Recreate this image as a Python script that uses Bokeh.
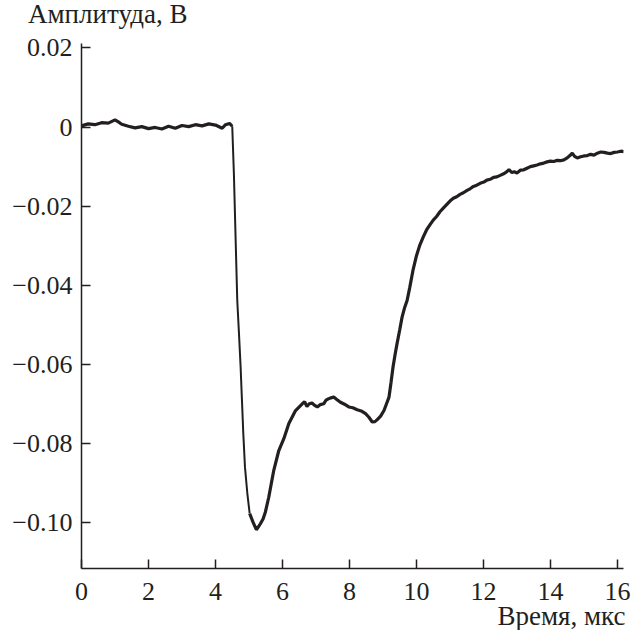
from bokeh.plotting import figure
from bokeh.models import FixedTicker, Range1d, Title, Div
from bokeh.layouts import column
from bokeh.embed import file_html
from bokeh.resources import INLINE

time_us = [0.0, 0.2, 0.4, 0.6, 0.8, 1.0, 1.1, 1.2, 1.4, 1.6, 1.8, 2.0, 2.2, 2.4, 2.6, 2.8,
           3.0, 3.2, 3.4, 3.6, 3.8, 4.0, 4.2, 4.3, 4.42, 4.5,
           4.55, 4.6, 4.65, 4.70, 4.75, 4.79, 4.83, 4.88, 4.95, 5.02, 5.12, 5.22, 5.28, 5.34,
           5.42, 5.49, 5.59, 5.74, 5.89, 6.04, 6.19, 6.39, 6.59, 6.66, 6.73, 6.8, 6.88, 6.96,
           7.04, 7.13, 7.23, 7.3, 7.38, 7.45, 7.53, 7.62, 7.73, 7.85, 7.98, 8.1, 8.23, 8.35,
           8.48, 8.58, 8.68, 8.76, 8.83, 8.93, 9.03, 9.1, 9.18, 9.24, 9.30, 9.36, 9.42, 9.50,
           9.57, 9.65, 9.72, 9.8, 9.9, 10.0, 10.1, 10.2, 10.3, 10.4, 10.5, 10.6, 10.7, 10.8,
           10.9, 11.0, 11.1, 11.2, 11.3, 11.4, 11.51, 11.6, 11.7, 11.8, 11.9, 12.01, 12.1, 12.2,
           12.3, 12.4, 12.5, 12.6, 12.68, 12.76, 12.85, 12.92, 13.0, 13.1, 13.2, 13.3, 13.4,
           13.5, 13.6, 13.7, 13.8, 13.9, 14.0, 14.1, 14.2, 14.3, 14.4, 14.5, 14.58, 14.65,
           14.72, 14.8, 14.9, 15.0, 15.1, 15.2, 15.3, 15.4, 15.5, 15.6, 15.7, 15.8, 15.9, 16.0,
           16.1, 16.19]

amplitude_v = [0.0003, 0.0008, 0.0006, 0.0011, 0.0010, 0.0018, 0.0013, 0.0007, 0.0002, -0.0002,
               0.0001, -0.0004, -0.0001, -0.0005, 0.0002, -0.0003, 0.0004, 0.0001, 0.0006, 0.0003,
               0.0008, 0.0005, -0.0003, 0.0006, 0.0009, 0.0002,
               -0.012, -0.028, -0.0438, -0.052, -0.0606, -0.069, -0.0774, -0.0859, -0.0925,
               -0.0976, -0.0998, -0.1017, -0.1010, -0.1002, -0.0990, -0.0972, -0.0935, -0.0867,
               -0.0817, -0.0787, -0.0749, -0.0716, -0.0699, -0.0694, -0.0706, -0.0699, -0.0697,
               -0.0703, -0.0707, -0.0701, -0.0699, -0.0690, -0.0686, -0.0684, -0.0682, -0.0688,
               -0.0695, -0.0700, -0.0707, -0.0709, -0.0714, -0.0717, -0.0724, -0.0733, -0.0745,
               -0.0744, -0.0739, -0.0730, -0.0716, -0.0700, -0.0682, -0.0645, -0.0606, -0.0575,
               -0.0547, -0.0512, -0.048, -0.0455, -0.0438, -0.0405, -0.036, -0.0325, -0.0298,
               -0.0278, -0.026, -0.0247, -0.0235, -0.0226, -0.0214, -0.0205, -0.0196, -0.0187,
               -0.0180, -0.0176, -0.0170, -0.0166, -0.0160, -0.0156, -0.0150, -0.0147, -0.0142,
               -0.0139, -0.0134, -0.0132, -0.0127, -0.0126, -0.0122, -0.0118, -0.0114, -0.0108,
               -0.0115, -0.0113, -0.0116, -0.0109, -0.0108, -0.0104, -0.0100, -0.0098, -0.0096,
               -0.0093, -0.0091, -0.0088, -0.0086, -0.0087, -0.0084, -0.0085, -0.0083, -0.0078,
               -0.0072, -0.0066, -0.0074, -0.0078, -0.0075, -0.0073, -0.0072, -0.0069, -0.0071,
               -0.0066, -0.0063, -0.0064, -0.0066, -0.0067, -0.0064, -0.0063, -0.0061, -0.0062]

x_ticks = [0, 2, 4, 6, 8, 10, 12, 14, 16]
y_ticks = [0.02, 0.0, -0.02, -0.04, -0.06, -0.08, -0.10]
y_tick_labels = ["0.02", "0", "\u22120.02", "\u22120.04", "\u22120.06", "\u22120.08", "\u22120.10"]
y_title = "Амплитуда, В"
x_title = "Время, мкс"

INK = "#231f20"
FONT = "'Liberation Serif'"
FS_TICK = "26px"
FS_TITLE = "27px"

header = Div(text=y_title, width=631, height=30, margin=(0, 0, 0, 0),
             styles={"font-family": FONT, "font-size": FS_TITLE, "color": INK,
                     "padding-left": "28px", "line-height": "28px", "white-space": "nowrap"})

p = figure(frame_width=542, frame_height=525, output_backend="svg", toolbar_location=None,
           x_range=Range1d(0, 16.18), y_range=Range1d(-0.1115, 0.0211),
           min_border_left=81, min_border_right=8, min_border_top=13, min_border_bottom=62,
           margin=(0, 0, 0, 0))
p.outline_line_color = None
p.grid.visible = False
p.background_fill_color = "white"

# steep fall (recorded sparsely) drawn thinner, the rest of the trace thicker
i0 = time_us.index(4.5)
i1 = time_us.index(5.02)
p.line(time_us[:i0 + 1], amplitude_v[:i0 + 1], line_color=INK, line_width=3.2)
p.line(time_us[i0:i1 + 1], amplitude_v[i0:i1 + 1], line_color=INK, line_width=2)
p.line(time_us[i1:], amplitude_v[i1:], line_color=INK, line_width=3.2)

for ax in (p.xaxis[0], p.yaxis[0]):
    ax.axis_line_color = INK
    ax.axis_line_width = 1.5
    ax.major_tick_line_color = INK
    ax.major_tick_line_width = 1.5
    ax.major_tick_in = 9
    ax.major_tick_out = 0
    ax.minor_tick_line_color = None
    ax.major_label_text_font = FONT
    ax.major_label_text_font_size = FS_TICK
    ax.major_label_text_color = INK
p.yaxis.major_label_standoff = 9
p.xaxis.major_label_standoff = 14

p.xaxis.ticker = FixedTicker(ticks=x_ticks)
p.yaxis.ticker = FixedTicker(ticks=y_ticks)
p.yaxis.major_label_overrides = {t: l for t, l in zip(y_ticks, y_tick_labels)}
p.xaxis.major_label_overrides = {t: str(t) for t in x_ticks}

xt = Title(text=x_title, align="right", text_font=FONT, text_font_size=FS_TITLE,
           text_font_style="normal", text_color=INK, offset=-2, standoff=-8)
p.add_layout(xt, "below")

layout = column(header, p, spacing=0, margin=(0, 0, 0, 0))

open("out.html", "w").write(file_html(layout, INLINE))
